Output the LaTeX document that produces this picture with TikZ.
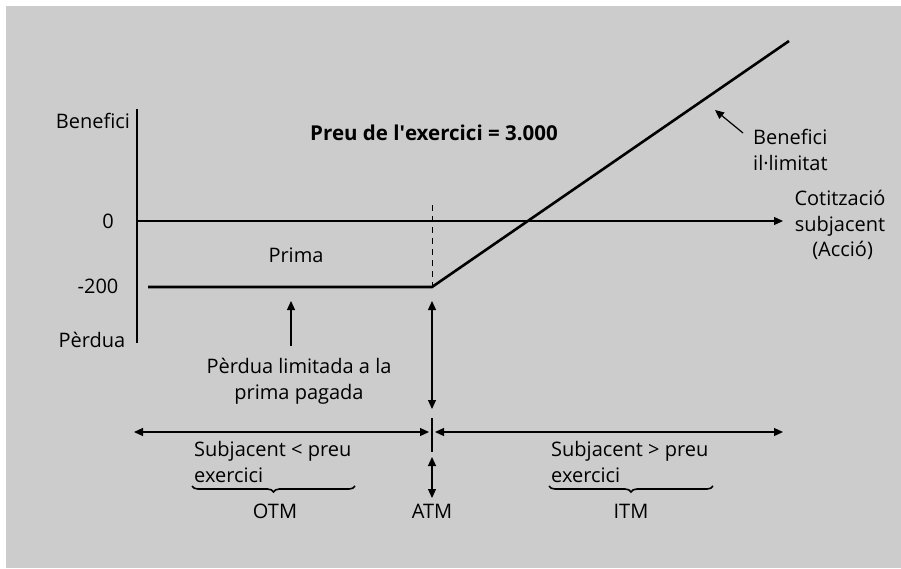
\documentclass[tikz,border=0pt]{standalone}
\usepackage{fontspec}
\setmainfont{Open Sans}
\usetikzlibrary{arrows.meta,decorations.pathreplacing}
\begin{document}
\begin{tikzpicture}[x=1pt,y=-1pt,
  txt/.style={font=\fontsize{20}{25.5}\selectfont, inner sep=0pt, align=center},
  ax/.style={line width=1.2pt},
  arr/.style={line width=1.2pt,-{Triangle[length=9pt,width=8pt]}},
  darr/.style={line width=1.2pt,{Triangle[length=9pt,width=8pt]}-{Triangle[length=9pt,width=8pt]}},
  pay/.style={line width=2.6pt},
  brc/.style={line width=1.6pt,decorate,decoration={brace,mirror,amplitude=6pt}}]
\useasboundingbox (0,0) rectangle (901,568);
\fill[white] (0,0) rectangle (901,568);
\fill[gray!40] (6,6) rectangle (901,568);
% axes
\coordinate (ytop) at (137,109);
\coordinate (ybot) at (137,343);
\coordinate (xo) at (137,221);
\coordinate (xend) at (783,221);
\draw[ax] (ytop) -- (ybot);
\draw[arr] (xo) -- (xend);
% payoff
\coordinate (p0) at (148,287);
\coordinate (k) at (432,287);
\coordinate (p1) at (789,41);
\coordinate (dtop) at (432,205);
\draw[line width=1pt,dashed,dash pattern=on 6pt off 5pt] (dtop) -- (k);
\draw[pay,line join=miter] (p0) -- (k) -- (p1);
% labels axes
\node[txt] (ben) at (93,121) {Benefici};
\node[txt] (zero) at (108,221) {0};
\node[txt] (m200) at (98,286) {-200};
\node[txt] (perd) at (92,340) {Pèrdua};
\node[txt,font=\fontsize{20.5}{25.5}\selectfont\bfseries] (title) at (434,133) {Preu de l\textquotesingle exercici = 3.000};
\node[txt] (prima) at (296,255) {Prima};
\node[txt] (cot) at (840,225) {Cotització\\subjacent\\\ (Acció)};
\node[txt,align=left,anchor=west] (bil) at (753,150) {Benefici\\il·limitat};
\coordinate (bt) at (743,133);
\coordinate (bh) at (715,110);
\draw[arr] (bt) -- (bh);
% perdua limitada
\node[txt] (pl) at (299,381) {Pèrdua limitada a la\\prima pagada};
\coordinate (plt) at (291,346);
\coordinate (plh) at (291,301);
\draw[arr] (plt) -- (plh);
% vertical double arrow
\coordinate (va) at (432,301);
\coordinate (vb) at (432,409);
\draw[darr] (va) -- (vb);
% horizontal arrows
\coordinate (hl) at (134,432);
\coordinate (hm1) at (429,432);
\coordinate (hm2) at (435,432);
\coordinate (hr) at (783,432);
\draw[darr] (hl) -- (hm1);
\draw[darr] (hm2) -- (hr);
\coordinate (tt) at (432,418);
\coordinate (tb) at (432,452);
\draw[ax] (tt) -- (tb);
% ATM arrow
\coordinate (aa) at (432,457);
\coordinate (ab) at (432,498);
\draw[darr] (aa) -- (ab);
\node[txt] (atm) at (432,511) {ATM};
% OTM
\node[txt,align=left,anchor=west] (sl) at (194,462) {Subjacent < preu\\exercici};
\coordinate (b1a) at (192,486);
\coordinate (b1b) at (355,486);
\draw[brc] (b1a) -- (b1b);
\node[txt] (otm) at (275,511) {OTM};
% ITM
\node[txt,align=left,anchor=west] (sg) at (551,462) {Subjacent > preu\\exercici};
\coordinate (b2a) at (549,486);
\coordinate (b2b) at (713,486);
\draw[brc] (b2a) -- (b2b);
\node[txt] (itm) at (631,511) {ITM};
\end{tikzpicture}
\end{document}
